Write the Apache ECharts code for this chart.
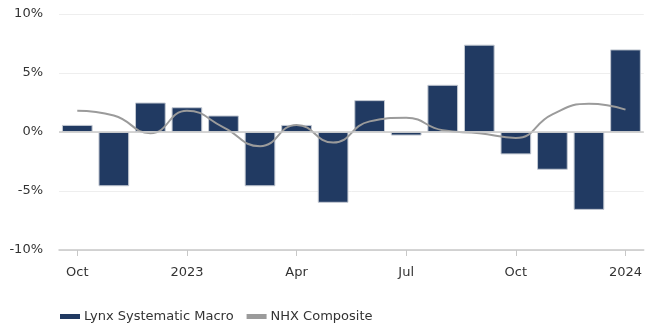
<!DOCTYPE html>
<html><head><meta charset="utf-8">
<script src="https://cdn.jsdelivr.net/npm/echarts@6/dist/echarts.min.js"></script>
<style>html,body{margin:0;padding:0;background:#fff}#c{width:645px;height:331px}</style>
</head><body><div id="c"></div>
<script>
const categories = ["Oct 2022","Nov 2022","Dec 2022","Jan 2023","Feb 2023","Mar 2023","Apr 2023","May 2023","Jun 2023","Jul 2023","Aug 2023","Sep 2023","Oct 2023","Nov 2023","Dec 2023","Jan 2024"];
const tickLabels = ["Oct","","","2023","","","Apr","","","Jul","","","Oct","","","2024"];
const lynx = [0.6,-4.6,2.5,2.1,1.4,-4.6,0.6,-6.0,2.7,-0.3,4.0,7.4,-1.9,-3.2,-6.6,7.0];
const nhx = [1.8,1.4,-0.1,1.8,0.4,-1.2,0.6,-0.9,0.9,1.2,0.15,-0.1,-0.5,1.5,2.4,1.9];
const yTicks = [-10,-5,0,5,10];

const chart = echarts.init(document.getElementById('c'));
const font = 'DejaVu Sans, Verdana, sans-serif';
chart.setOption({
  animation:false,
  grid:{left:59,right:0,top:14,bottom:81},
  legend:{left:60,bottom:8,padding:0,itemWidth:20,itemHeight:5,itemGap:13,icon:'rect',
    itemStyle:{borderWidth:0},
    textStyle:{fontFamily:font,fontSize:13,color:'#333',padding:[0,0,0,-1]},
    data:[{name:'Lynx Systematic Macro'},{name:'NHX Composite'}]},
  xAxis:{type:'category',data:categories,boundaryGap:true,
    axisLine:{show:true,onZero:false,lineStyle:{color:'#c8c8c8',width:1.5}},
    axisTick:{show:true,interval:2,alignWithLabel:true,length:6,lineStyle:{color:'#c8c8c8'}},
    axisLabel:{interval:2,margin:16,fontFamily:font,fontSize:13,color:'#333',
      formatter:(v,i)=>tickLabels[i]}},
  yAxis:{type:'value',min:yTicks[0],max:yTicks[yTicks.length-1],interval:5,
    axisLabel:{formatter:'{value}%',fontFamily:font,fontSize:13,color:'#333',margin:16},
    axisLine:{show:false},axisTick:{show:false},
    splitLine:{lineStyle:{color:'#eeeeee'}}},
  series:[
    {name:'Lynx Systematic Macro',type:'bar',data:lynx,barCategoryGap:'16%',
      itemStyle:{color:'#213a62',borderColor:'#c3c9d2',borderWidth:1},
      markLine:{silent:true,symbol:'none',label:{show:false},
        lineStyle:{color:'#c8c8c8',type:'solid',width:1.5},
        data:[{yAxis:0}]}},
    {name:'NHX Composite',type:'line',data:nhx,smooth:0.5,showSymbol:false,symbol:'none',
      lineStyle:{color:'#9b9b9b',width:2},itemStyle:{color:'#9b9b9b'},z:3}
  ]
});
</script></body></html>
